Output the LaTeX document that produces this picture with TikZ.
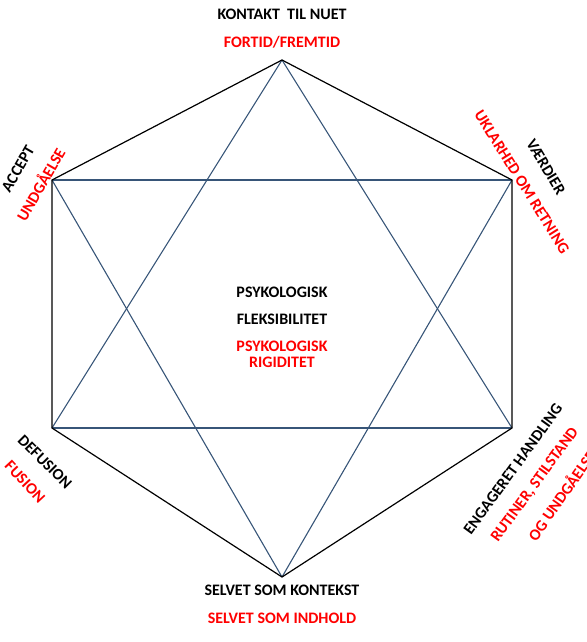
\documentclass[tikz,border=0pt]{standalone}
\usepackage{fontspec}
\setmainfont{Carlito}
\definecolor{tri}{RGB}{55,85,120}
\definecolor{lbl}{RGB}{255,0,0}
\tikzset{
  hexedge/.style={draw=black, line width=1.2pt},
  triedge/.style={draw=tri, line width=1.1pt},
  blk/.style={font=\bfseries\fontsize{16}{18}\selectfont, text=black, inner sep=0pt},
  red/.style={font=\bfseries\fontsize{16}{18}\selectfont, text=lbl, inner sep=0pt},
}
\begin{document}
\begin{tikzpicture}[x=1pt,y=-1pt]
\useasboundingbox (0,0) rectangle (586,642);
\coordinate (T) at (282,60);
\coordinate (UR) at (512,180);
\coordinate (LR) at (512,428);
\coordinate (B) at (282,577);
\coordinate (LL) at (52,428);
\coordinate (UL) at (52,180);
% inner lines
\draw[triedge] (T) -- (LL);
\draw[triedge] (T) -- (LR);
\draw[triedge] (B) -- (UL);
\draw[triedge] (B) -- (UR);
\draw[triedge] (UL) -- (UR);
\draw[triedge] (LL) -- (LR);
% hexagon
\draw[hexedge, line join=miter] (T) -- (UR) -- (LR) -- (B) -- (LL) -- (UL) -- cycle;
% labels
\node[blk] (kon) at (282,14) {KONTAKT\ \ TIL NUET};
\node[red] (fort) at (282,42) {FORTID/FREMTID};
\node[blk, rotate=60] (acc) at (18,169) {ACCEPT};
\node[red, rotate=60] (und) at (40,184) {UNDGÅELSE};
\node[blk, rotate=-59] (vaer) at (546,167) {VÆRDIER};
\node[red, rotate=-58] (ukl) at (522,182) {UKLARHED OM RETNING};
\node[blk, rotate=54] (eng) at (513,469) {ENGAGERET HANDLING};
\node[red, rotate=54] (rut) at (535,485) {RUTINER, STILSTAND};
\node[red, rotate=55] (og) at (561,495) {OG UNDGÅELSE};
\node[blk, rotate=-45] (def) at (45,462) {DEFUSION};
\node[red, rotate=-47] (fus) at (25,482) {FUSION};
\node[blk] (sk) at (282,590) {SELVET SOM KONTEKST};
\node[red] (si) at (282,618) {SELVET SOM INDHOLD};
\node[blk] (p1) at (282,292) {PSYKOLOGISK};
\node[blk] (p2) at (282,319) {FLEKSIBILITET};
\node[red] (p3) at (282,346) {PSYKOLOGISK};
\node[red] (p4) at (282,362) {RIGIDITET};
\end{tikzpicture}
\end{document}
